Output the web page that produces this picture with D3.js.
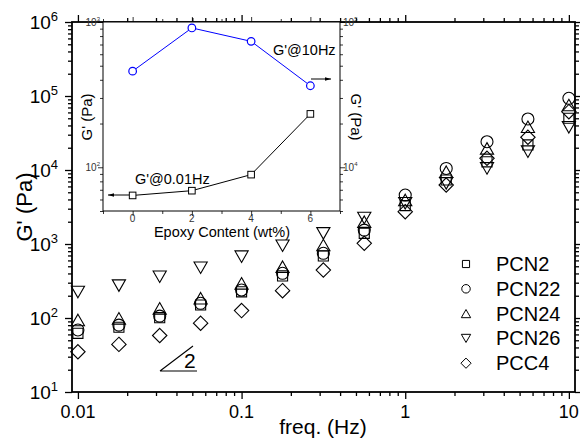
<!DOCTYPE html>
<html>
<head>
<meta charset="utf-8">
<script src="https://cdn.jsdelivr.net/npm/d3@7"></script>
<style>
  body { margin: 0; background: #fff; }
  text { font-family: "Liberation Sans", Arial, sans-serif; }
</style>
</head>
<body>
<div id="chart"></div>
<script>
// frequency sweep, Hz
const freq = [0.01, 0.0178, 0.0316, 0.0562, 0.1, 0.178, 0.316, 0.562, 1, 1.78, 3.16, 5.62, 10];
const pcn2  = [62, 75, 101, 150, 226, 370, 689, 1393, 3300, 7330, 12900, 21800, 50000];
const pcn22 = [69, 80, 106, 158, 239, 402, 749, 1540, 4590, 10500, 24100, 48900, 93100];
const pcn24 = [94, 99, 135, 185, 294, 493, 968, 2004, 3936, 9480, 19600, 38400, 75500];
const pcn26 = [224, 274, 361, 478, 674, 948, 1393, 2245, 3550, 6600, 10500, 17700, 37800];
const pcc4  = [35, 44, 58, 85, 126, 234, 445, 1023, 2735, 6270, 14400, 27700, 61400];
const seriesNames = ["PCN2", "PCN22", "PCN24", "PCN26", "PCC4"];
const seriesShapes = ["square", "circle", "up", "down", "diamond"];

// inset
const epoxy = [0, 2, 4, 6];
const g001 = [64, 69, 89, 233];
const g10 = [45900, 91000, 73600, 36400];

const xTicks = [0.01, 0.1, 1, 10];
const xTickLabels = ["0.01", "0.1", "1", "10"];
const yExp = [1, 2, 3, 4, 5, 6];

(function () {
    let width = 580, height = 439;
    let svg = d3.select("#chart").append("svg")
        .attr("width", width)
        .attr("height", height);

    let x = d3.scaleLog().domain([0.0092, 10.9]).range([72, 575]);
    let y = d3.scaleLog().domain([10, 1e6]).range([392, 22]);

    // marker path builder, centred on (0,0)
    function shape(kind, s) {
        let p = d3.path();
        if (kind === "square") {
            p.rect(-s * 0.42, -s * 0.42, s * 0.84, s * 0.84);
        } else if (kind === "circle") {
            p.arc(0, 0, s * 0.5, 0, 2 * Math.PI);
        } else if (kind === "up") {
            p.moveTo(0, -s * 0.48); p.lineTo(s * 0.55, s * 0.48); p.lineTo(-s * 0.55, s * 0.48); p.closePath();
        } else if (kind === "down") {
            p.moveTo(0, s * 0.48); p.lineTo(s * 0.55, -s * 0.48); p.lineTo(-s * 0.55, -s * 0.48); p.closePath();
        } else {
            p.moveTo(0, -s * 0.6); p.lineTo(s * 0.6, 0); p.lineTo(0, s * 0.6); p.lineTo(-s * 0.6, 0); p.closePath();
        }
        return p.toString();
    }

    function minorLog(lo, hi) {
        let out = [];
        for (let e = lo; e < hi; e++)
            for (let m = 2; m <= 9; m++) out.push(m * Math.pow(10, e));
        return out;
    }
    let xMinor = minorLog(-2, 1).filter(v => v < 10.9);
    let yMajor = yExp.map(e => Math.pow(10, e));
    let yMinor = minorLog(1, 6);

    // frame ticks
    function axisGroup(axis, tr) {
        let g = svg.append("g").attr("transform", tr).call(axis);
        g.select(".domain").remove();
        g.selectAll("line").attr("stroke", "#000").attr("stroke-width", 1.3);
        g.selectAll("text").remove();
        return g;
    }
    axisGroup(d3.axisBottom(x).tickValues(xTicks).tickSize(7), "translate(0,392)");
    axisGroup(d3.axisBottom(x).tickValues(xMinor).tickSize(4), "translate(0,392)");
    axisGroup(d3.axisBottom(x).tickValues(xTicks).tickSize(-7), "translate(0,22)");
    axisGroup(d3.axisBottom(x).tickValues(xMinor).tickSize(-4), "translate(0,22)");
    axisGroup(d3.axisLeft(y).tickValues(yMajor).tickSize(7), "translate(72,0)");
    axisGroup(d3.axisLeft(y).tickValues(yMinor).tickSize(4), "translate(72,0)");
    axisGroup(d3.axisLeft(y).tickValues(yMajor).tickSize(-7), "translate(575,0)");
    axisGroup(d3.axisLeft(y).tickValues(yMinor).tickSize(-4), "translate(575,0)");

    svg.append("rect")
        .attr("x", 72).attr("y", 22)
        .attr("width", 503).attr("height", 370)
        .attr("fill", "none").attr("stroke", "#000").attr("stroke-width", 1.8);

    // tick labels
    svg.selectAll(".xl").data(xTicks).enter().append("text")
        .attr("x", d => x(d)).attr("y", 418)
        .attr("text-anchor", "middle").attr("font-size", 18)
        .text((d, i) => xTickLabels[i]);
    let yl = svg.selectAll(".yl").data(yExp).enter().append("text")
        .attr("x", 58).attr("y", d => y(Math.pow(10, d)) + 7)
        .attr("text-anchor", "end").attr("font-size", 19);
    yl.append("tspan").text("10");
    yl.append("tspan").attr("font-size", 13).attr("dy", -8).text(d => d);

    svg.append("text")
        .attr("transform", "translate(32,207) rotate(-90)")
        .attr("text-anchor", "middle").attr("font-size", 22)
        .text("G' (Pa)");
    svg.append("text")
        .attr("x", 323).attr("y", 434)
        .attr("text-anchor", "middle").attr("font-size", 21)
        .text("freq. (Hz)");

    // scatter points
    let allSeries = [pcn2, pcn22, pcn24, pcn26, pcc4];
    allSeries.forEach((vals, k) => {
        svg.append("g").selectAll("path")
            .data(vals).enter().append("path")
            .attr("transform", (d, i) => `translate(${x(freq[i])},${y(d)})`)
            .attr("d", shape(seriesShapes[k], 12))
            .attr("fill", "none").attr("stroke", "#000").attr("stroke-width", 1.1);
    });

    // legend
    let lg = svg.selectAll(".lg").data(seriesNames).enter().append("g")
        .attr("transform", (_, i) => `translate(466,${264 + i * 24.8})`);
    lg.append("path")
        .attr("d", (_, i) => shape(seriesShapes[i], 8.5))
        .attr("fill", "none").attr("stroke", "#000").attr("stroke-width", 1);
    lg.append("text")
        .attr("x", 30).attr("y", 7)
        .attr("font-size", 20)
        .text(d => d);

    // slope-2 marker
    svg.append("path")
        .attr("d", "M160,371 L193,346 M160,371 L197,371")
        .attr("fill", "none").attr("stroke", "#000").attr("stroke-width", 1.1);
    svg.append("text")
        .attr("x", 184).attr("y", 368)
        .attr("font-size", 21)
        .text("2");

    // ---------- inset ----------
    let xi = d3.scaleLinear().domain([-1, 7]).range([103, 340]);
    let yL = d3.scaleLog().domain([50, 1000]).range([211, 22]);
    let yR = d3.scaleLog().domain([5000, 1e5]).range([211, 22]);

    svg.append("rect")
        .attr("x", 103).attr("y", 22)
        .attr("width", 237).attr("height", 189)
        .attr("fill", "#fff").attr("stroke", "#000").attr("stroke-width", 1);

    function insetAxis(axis, tr) {
        let g = svg.append("g").attr("transform", tr).call(axis);
        g.select(".domain").remove();
        g.selectAll("line").attr("stroke", "#000").attr("stroke-width", 0.8);
        g.selectAll("text").remove();
    }
    let xiMajor = [0, 2, 4, 6], xiMinor = [-1, 1, 3, 5, 7];
    insetAxis(d3.axisBottom(xi).tickValues(xiMajor).tickSize(5), "translate(0,211)");
    insetAxis(d3.axisBottom(xi).tickValues(xiMinor).tickSize(3), "translate(0,211)");
    insetAxis(d3.axisBottom(xi).tickValues(xiMajor).tickSize(-5), "translate(0,22)");
    insetAxis(d3.axisBottom(xi).tickValues(xiMinor).tickSize(-3), "translate(0,22)");
    insetAxis(d3.axisLeft(yL).tickValues([100, 1000]).tickSize(5), "translate(103,0)");
    insetAxis(d3.axisLeft(yL).tickValues([50, 60, 70, 80, 90, 200, 300, 400, 500, 600, 700, 800, 900]).tickSize(3), "translate(103,0)");
    insetAxis(d3.axisRight(yR).tickValues([1e4, 1e5]).tickSize(5), "translate(340,0)");
    insetAxis(d3.axisRight(yR).tickValues([5000, 6000, 7000, 8000, 9000, 2e4, 3e4, 4e4, 5e4, 6e4, 7e4, 8e4, 9e4]).tickSize(3), "translate(340,0)");

    svg.selectAll(".xil").data(xiMajor).enter().append("text")
        .attr("x", d => xi(d)).attr("y", 222)
        .attr("text-anchor", "middle").attr("font-size", 10).attr("fill", "#333")
        .text(d => d);
    [[yL, 100, "2"], [yL, 1000, "3"]].forEach(t => {
        let tx = svg.append("text").attr("x", 100).attr("y", t[0](t[1]) + 4)
            .attr("text-anchor", "end").attr("font-size", 10).attr("fill", "#333");
        tx.append("tspan").text("10");
        tx.append("tspan").attr("font-size", 6).attr("dy", -5).text(t[2]);
    });
    [[1e4, "4"], [1e5, "5"]].forEach(t => {
        let tx = svg.append("text").attr("x", 343).attr("y", yR(t[0]) + 4)
            .attr("font-size", 10).attr("fill", "#333");
        tx.append("tspan").text("10");
        tx.append("tspan").attr("font-size", 6).attr("dy", -5).text(t[1]);
    });

    svg.append("text")
        .attr("x", 222).attr("y", 237)
        .attr("text-anchor", "middle").attr("font-size", 14.5)
        .text("Epoxy Content (wt%)");
    svg.append("text")
        .attr("transform", "translate(92,117) rotate(-90)")
        .attr("text-anchor", "middle").attr("font-size", 15)
        .text("G' (Pa)");
    svg.append("text")
        .attr("transform", "translate(351,117) rotate(90)")
        .attr("text-anchor", "middle").attr("font-size", 15)
        .text("G' (Pa)");

    let lineL = d3.line().x((d, i) => xi(epoxy[i])).y(d => yL(d));
    let lineR = d3.line().x((d, i) => xi(epoxy[i])).y(d => yR(d));
    svg.append("path").attr("d", lineL(g001))
        .attr("fill", "none").attr("stroke", "#000").attr("stroke-width", 1);
    svg.append("path").attr("d", lineR(g10))
        .attr("fill", "none").attr("stroke", "#0000ff").attr("stroke-width", 1);
    svg.append("g").selectAll("rect").data(g001).enter().append("rect")
        .attr("x", (d, i) => xi(epoxy[i]) - 3.3).attr("y", d => yL(d) - 3.3)
        .attr("width", 6.6).attr("height", 6.6)
        .attr("fill", "#fff").attr("stroke", "#000").attr("stroke-width", 1);
    svg.append("g").selectAll("circle").data(g10).enter().append("circle")
        .attr("cx", (d, i) => xi(epoxy[i])).attr("cy", d => yR(d))
        .attr("r", 3.8)
        .attr("fill", "#fff").attr("stroke", "#0000ff").attr("stroke-width", 1.2);

    // annotations
    svg.append("defs").append("marker")
        .attr("id", "ah").attr("viewBox", "0 0 10 10")
        .attr("refX", 10).attr("refY", 5)
        .attr("markerWidth", 6).attr("markerHeight", 6)
        .attr("orient", "auto")
        .append("path").attr("d", "M0,2 L10,5 L0,8 Z").attr("fill", "#000");
    svg.append("text").attr("x", 135).attr("y", 184).attr("font-size", 14.5).text("G'@0.01Hz");
    svg.append("line").attr("x1", 129).attr("y1", 195).attr("x2", 108).attr("y2", 195)
        .attr("stroke", "#000").attr("marker-end", "url(#ah)");
    svg.append("text").attr("x", 273).attr("y", 55).attr("font-size", 14.5).text("G'@10Hz");
    svg.append("line").attr("x1", 311).attr("y1", 79).attr("x2", 331).attr("y2", 79)
        .attr("stroke", "#000").attr("marker-end", "url(#ah)");
})();
</script>
</body>
</html>
